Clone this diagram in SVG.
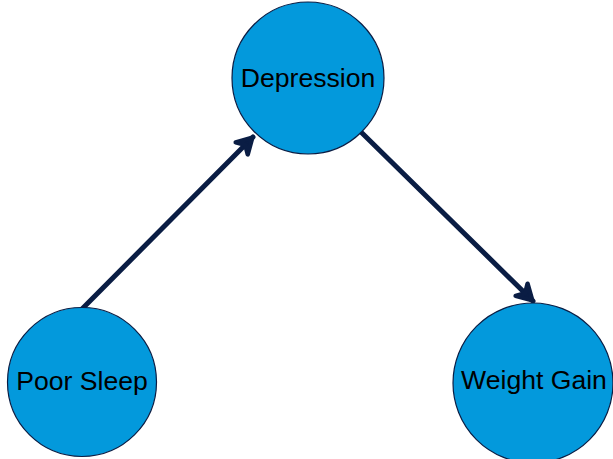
<svg xmlns="http://www.w3.org/2000/svg" width="613" height="459" viewBox="0 0 613 459">
  <style>
    .node circle { fill: #0399dc; stroke: #0a1d44; stroke-width: 1.2; }
    .node text { font-family: "Liberation Sans", Arial, sans-serif; font-size: 26.6px; fill: #000; text-anchor: middle; }
    .edge { stroke: #0a1d44; stroke-width: 5; fill: none; stroke-linecap: round; }
  </style>
  <defs>
    <marker id="arrow" markerUnits="userSpaceOnUse" markerWidth="30" markerHeight="30" refX="0" refY="0" viewBox="-20 -15 30 30" orient="auto" overflow="visible">
      <path d="M -16 -8.5 L -1 0 L -16 8.5 L -11 0 Z" fill="#0a1d44" stroke="#0a1d44" stroke-width="4.5" stroke-linecap="round" stroke-linejoin="round"/>
    </marker>
  </defs>
  <rect width="613" height="459" fill="#ffffff"/>
  <g id="connectors">
    <line class="edge" x1="82" y1="309" x2="253" y2="137" marker-end="url(#arrow)"/>
    <line class="edge" x1="362" y1="133" x2="533" y2="301" marker-end="url(#arrow)"/>
  </g>
  <g id="node-depression" class="node">
    <circle cx="308" cy="78" r="76"/>
    <text x="308" y="87">Depression</text>
  </g>
  <g id="node-poor-sleep" class="node">
    <circle cx="82" cy="382" r="74.5"/>
    <text x="82" y="390">Poor Sleep</text>
  </g>
  <g id="node-weight-gain" class="node">
    <circle cx="533" cy="383" r="80"/>
    <text x="534" y="389">Weight Gain</text>
  </g>
</svg>
